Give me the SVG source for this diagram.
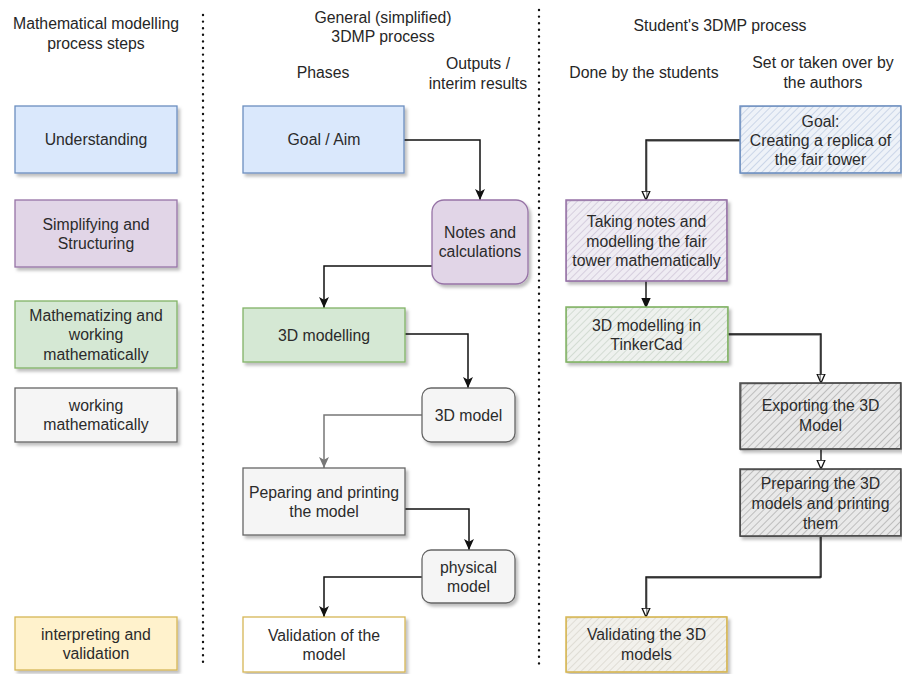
<svg xmlns="http://www.w3.org/2000/svg" width="902" height="674" viewBox="0 0 902 674">
<style>
text{font-family:"Liberation Sans",Arial,sans-serif;font-size:15.8px;fill:#2b2b2b;text-anchor:middle;dominant-baseline:central}
.hd{font-size:15.8px;fill:#262626}
.box{stroke-width:1.3}
.conn{fill:none;stroke:#111;stroke-width:1.5}
.sk{fill:none;stroke:#111;stroke-width:1.4}
.dots{stroke:#111;stroke-width:2.4;stroke-linecap:round;stroke-dasharray:0 6.6}
</style>
<defs>
<filter id="sh" x="-10%" y="-10%" width="130%" height="140%">
<feDropShadow dx="2.5" dy="3" stdDeviation="1.8" flood-color="#000" flood-opacity="0.25"/>
</filter>
<marker id="af" viewBox="0 0 10 10" markerUnits="userSpaceOnUse" markerWidth="11" markerHeight="11" refX="10" refY="5" orient="auto">
<path d="M0,0.5 L10,5 L0,9.5 L2.5,5 z" fill="#111"/>
</marker>
<marker id="ag" viewBox="0 0 10 10" markerUnits="userSpaceOnUse" markerWidth="11" markerHeight="11" refX="10" refY="5" orient="auto">
<path d="M0,0.5 L10,5 L0,9.5 L2.5,5 z" fill="#777"/>
</marker>
<marker id="ao" viewBox="0 0 10 10" markerUnits="userSpaceOnUse" markerWidth="10" markerHeight="10" refX="9.5" refY="5" orient="auto">
<path d="M0.5,1 L9.5,5 L0.5,9 z" fill="#fff" stroke="#111" stroke-width="1.3"/>
</marker>
<marker id="ab" viewBox="0 0 10 10" markerUnits="userSpaceOnUse" markerWidth="10" markerHeight="10" refX="9.5" refY="5" orient="auto">
<path d="M0.5,1 L9.5,5 L0.5,9 z" fill="#111" stroke="#111" stroke-width="1.3"/>
</marker>
<pattern id="hb" width="5" height="5" patternUnits="userSpaceOnUse" patternTransform="rotate(45)"><rect width="5" height="5" fill="#eef2f8"/><line x1="0" y1="0" x2="0" y2="5" stroke="#b3c4de" stroke-width="1.2"/></pattern>
<pattern id="hp" width="5" height="5" patternUnits="userSpaceOnUse" patternTransform="rotate(45)"><rect width="5" height="5" fill="#efecf3"/><line x1="0" y1="0" x2="0" y2="5" stroke="#c5bad1" stroke-width="1.2"/></pattern>
<pattern id="hg" width="5" height="5" patternUnits="userSpaceOnUse" patternTransform="rotate(45)"><rect width="5" height="5" fill="#eef1ee"/><line x1="0" y1="0" x2="0" y2="5" stroke="#c2cfc2" stroke-width="1.2"/></pattern>
<pattern id="hd" width="5" height="5" patternUnits="userSpaceOnUse" patternTransform="rotate(45)"><rect width="5" height="5" fill="#e9e9e9"/><line x1="0" y1="0" x2="0" y2="5" stroke="#a0a0a0" stroke-width="1.2"/></pattern>
<pattern id="hy" width="5" height="5" patternUnits="userSpaceOnUse" patternTransform="rotate(45)"><rect width="5" height="5" fill="#f2f1ec"/><line x1="0" y1="0" x2="0" y2="5" stroke="#d3d0c6" stroke-width="1.2"/></pattern>
</defs>
<rect width="902" height="674" fill="#fff"/>

<g id="dividers">
<line class="dots" x1="203" y1="15" x2="203" y2="668"/>
<line class="dots" x1="539" y1="10" x2="539" y2="668"/>
</g>

<g id="headers">
<text class="hd" x="96" y="23">Mathematical modelling</text>
<text class="hd" x="96" y="43">process steps</text>
<text class="hd" x="383" y="17">General (simplified)</text>
<text class="hd" x="383" y="36">3DMP process</text>
<text class="hd" x="323" y="72">Phases</text>
<text class="hd" x="478" y="63">Outputs /</text>
<text class="hd" x="478" y="83">interim results</text>
<text class="hd" x="720" y="25">Student's 3DMP process</text>
<text class="hd" x="644" y="72">Done by the students</text>
<text class="hd" x="823" y="62">Set or taken over by</text>
<text class="hd" x="823" y="82">the authors</text>
</g>

<g id="connectors">
<path class="conn" d="M404,140 H480 V200" marker-end="url(#af)"/>
<path class="conn" d="M432,266 H324 V308" marker-end="url(#af)"/>
<path class="conn" d="M405,334 H468 V388" marker-end="url(#af)"/>
<path class="conn" d="M422,415 H324 V468" style="stroke:#777" marker-end="url(#ag)"/>
<path class="conn" d="M405,509 H469 V550" marker-end="url(#af)"/>
<path class="conn" d="M422,577 H324 V617" marker-end="url(#af)"/>
<path class="sk" d="M740,140 H646 V200" marker-end="url(#ao)"/>
<path class="sk" d="M740.5,141 H646.8 V198" stroke-opacity="0.5"/>
<path class="sk" d="M646,281 V307" stroke-width="2" marker-end="url(#ab)"/>
<path class="sk" d="M728,334 H821 V383" marker-end="url(#ao)"/>
<path class="sk" d="M728.5,335 H820.2 V380" stroke-opacity="0.5"/>
<path class="sk" d="M821,449 V469" marker-end="url(#ao)"/>
<path class="sk" d="M821,536 V577 H646 V617" marker-end="url(#ao)"/>
<path class="sk" d="M820,537 V578 H646.8 V614" stroke-opacity="0.5"/>
</g>

<g id="understanding"><rect class="box" x="15" y="106" width="162" height="67" fill="#dae8fc" stroke="#6c8ebf" filter="url(#sh)"/><text x="96" y="139.5">Understanding</text></g>
<g id="simplifying"><rect class="box" x="15" y="200" width="162" height="67" fill="#e1d5e7" stroke="#9673a6" filter="url(#sh)"/><text x="96" y="224">Simplifying and</text><text x="96" y="243">Structuring</text></g>
<g id="mathematizing"><rect class="box" x="15" y="301" width="162" height="67" fill="#d5e8d4" stroke="#82b366" filter="url(#sh)"/><text x="96" y="315">Mathematizing and</text><text x="96" y="334.5">working</text><text x="96" y="354">mathematically</text></g>
<g id="working"><rect class="box" x="15" y="388" width="162" height="54" fill="#f5f5f5" stroke="#666" filter="url(#sh)"/><text x="96" y="405.5">working</text><text x="96" y="424.5">mathematically</text></g>
<g id="interpreting"><rect class="box" x="15" y="617" width="162" height="53" fill="#fff2cc" stroke="#d6b656" filter="url(#sh)"/><text x="96" y="634">interpreting and</text><text x="96" y="653">validation</text></g>

<g id="goal-aim"><rect class="box" x="243" y="106" width="161" height="67" fill="#dae8fc" stroke="#6c8ebf" filter="url(#sh)"/><text x="324" y="139.5">Goal / Aim</text></g>
<g id="notes"><rect class="box" x="432" y="200" width="96" height="84" rx="12" fill="#e1d5e7" stroke="#9673a6" filter="url(#sh)"/><text x="480" y="232">Notes and</text><text x="480" y="251">calculations</text></g>
<g id="modelling3d"><rect class="box" x="243" y="308" width="162" height="54" fill="#d5e8d4" stroke="#82b366" filter="url(#sh)"/><text x="324" y="335">3D modelling</text></g>
<g id="model3d"><rect class="box" x="422" y="388" width="93" height="54" rx="9" fill="#f5f5f5" stroke="#666" filter="url(#sh)"/><text x="468.5" y="415">3D model</text></g>
<g id="preparing"><rect class="box" x="243" y="468" width="162" height="67" fill="#f5f5f5" stroke="#666" filter="url(#sh)"/><text x="324" y="492">Peparing and printing</text><text x="324" y="511">the model</text></g>
<g id="physical"><rect class="box" x="422" y="550" width="93" height="53" rx="9" fill="#f5f5f5" stroke="#666" filter="url(#sh)"/><text x="468.5" y="567">physical</text><text x="468.5" y="586">model</text></g>
<g id="validation"><rect class="box" x="243" y="617" width="162" height="55" fill="#fff" stroke="#d6b656" filter="url(#sh)"/><text x="324" y="635">Validation of the</text><text x="324" y="654">model</text></g>

<g id="s-goal"><rect x="740" y="106" width="161" height="67" fill="url(#hb)" stroke="#6c8ebf" stroke-width="1.4" filter="url(#sh)"/><path d="M740.8,106.6 L900.5,105.7 L900.8,172.4 L740.4,173.3 Z" fill="none" stroke="#6c8ebf" stroke-width="1" stroke-opacity="0.7"/><text x="820.5" y="121">Goal:</text><text x="820.5" y="140">Creating a replica of</text><text x="820.5" y="159">the fair tower</text></g>
<g id="s-notes"><rect x="566" y="200" width="161" height="81" fill="url(#hp)" stroke="#9673a6" stroke-width="1.5" filter="url(#sh)"/><path d="M566.7,200.8 L726.4,199.6 L727.2,280.5 L566.4,281.3 Z" fill="none" stroke="#9673a6" stroke-width="1" stroke-opacity="0.7"/><text x="646.5" y="221.5">Taking notes and</text><text x="646.5" y="241">modelling the fair</text><text x="646.5" y="260">tower mathematically</text></g>
<g id="s-tinkercad"><rect x="566" y="307" width="162" height="55" fill="url(#hg)" stroke="#82b366" stroke-width="1.5" filter="url(#sh)"/><path d="M566.5,307.7 L727.4,306.6 L727.6,361.4 L566.8,362.3 Z" fill="none" stroke="#82b366" stroke-width="1" stroke-opacity="0.7"/><text x="646.5" y="325">3D modelling in</text><text x="646.5" y="344">TinkerCad</text></g>
<g id="s-exporting"><rect x="740" y="383" width="161" height="66" fill="url(#hd)" stroke="#555" stroke-width="1.6" filter="url(#sh)"/><path d="M741,383.8 L900.4,382.6 L900.6,448.4 L740.5,449.6 Z" fill="none" stroke="#444" stroke-width="1.1" stroke-opacity="0.8"/><text x="820.5" y="405">Exporting the 3D</text><text x="820.5" y="425">Model</text></g>
<g id="s-preparing"><rect x="740" y="469" width="161" height="67" fill="url(#hd)" stroke="#555" stroke-width="1.6" filter="url(#sh)"/><path d="M740.6,469.8 L900.5,468.7 L900.7,535.3 L740.4,536.5 Z" fill="none" stroke="#444" stroke-width="1.1" stroke-opacity="0.8"/><text x="820.5" y="483">Preparing the 3D</text><text x="820.5" y="503">models and printing</text><text x="820.5" y="523">them</text></g>
<g id="s-validating"><rect x="566" y="617" width="161" height="55" fill="url(#hy)" stroke="#d6b656" stroke-width="1.5" filter="url(#sh)"/><path d="M566.6,617.8 L726.5,616.6 L726.8,671.4 L566.3,672.3 Z" fill="none" stroke="#d6b656" stroke-width="1" stroke-opacity="0.7"/><text x="646.5" y="634">Validating the 3D</text><text x="646.5" y="654">models</text></g>
</svg>
